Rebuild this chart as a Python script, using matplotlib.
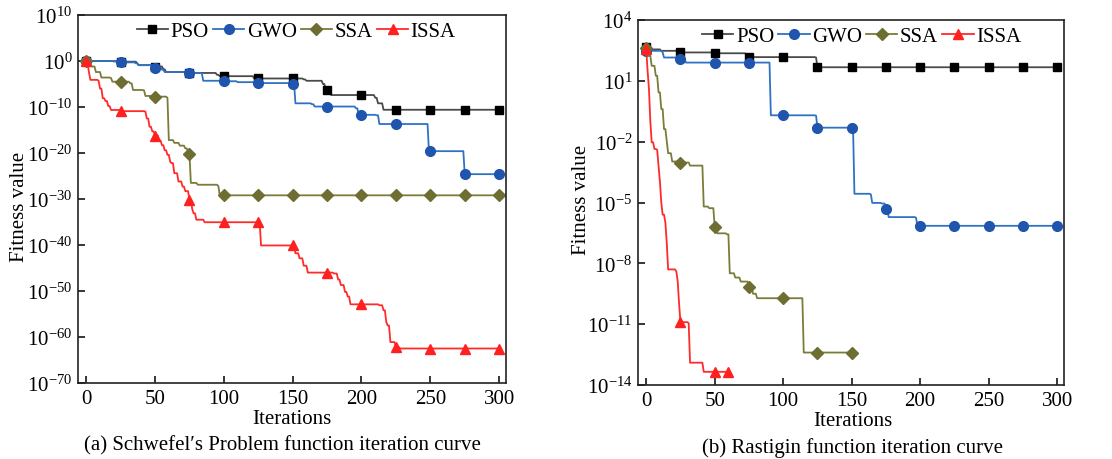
import numpy as np
import matplotlib
matplotlib.use("Agg")
import matplotlib.pyplot as plt
from matplotlib.ticker import LogFormatterSciNotation, NullLocator

plt.rcParams['font.family'] = ['Liberation Serif', 'DejaVu Serif']
plt.rcParams['mathtext.fontset'] = 'custom'
plt.rcParams['mathtext.rm'] = 'Liberation Serif'
plt.rcParams['mathtext.it'] = 'Liberation Serif:italic'
plt.rcParams['mathtext.bf'] = 'Liberation Serif:bold'

# ---------------- data (iteration where value changes, log10 fitness) ----------------
labels = ["PSO", "GWO", "SSA", "ISSA"]

# (a) Schwefel's Problem
a_pso_it = [0, 20, 25, 37, 38, 50, 56, 58, 75, 95, 97, 122, 158, 160, 172, 174, 177, 178, 210, 212, 216]
a_pso_lg = [0.0, -0.1, -0.15, -0.5, -0.9, -1.2, -1.8, -2.4, -2.6, -3.0, -3.3, -3.8, -4.0, -4.3, -5.0, -6.3, -6.8, -7.4, -8.0, -9.2, -10.6]
a_gwo_it = [0, 25, 36, 38, 50, 55, 57, 75, 84, 85, 100, 110, 125, 150, 152, 164, 166, 196, 198, 211, 213, 249, 275]
a_gwo_lg = [0.0, -0.3, -0.5, -0.9, -1.45, -1.9, -2.4, -2.6, -2.7, -4.3, -4.4, -4.6, -4.8, -4.9, -9.2, -9.4, -9.9, -10.3, -11.7, -11.8, -13.7, -19.6, -24.6]
a_ssa_it = [0, 2, 4, 7, 11, 18, 19, 32, 34, 42, 43, 50, 59, 60, 64, 68, 72, 74, 75, 76, 81, 96, 97]
a_ssa_lg = [0.0, -0.6, -1.2, -2.4, -3.6, -3.7, -4.5, -4.86, -6.3, -6.4, -7.6, -7.75, -8.0, -17.2, -17.8, -18.4, -19.0, -19.6, -20.3, -26.5, -26.9, -27.2, -29.2]
a_issa_it = [0, 1, 2, 3, 9, 10, 12, 14, 16, 18, 25, 43, 44, 46, 48, 50, 53, 55, 57, 59, 61, 62, 64, 67, 70, 72, 75, 77, 78, 80, 86,
             127, 152, 155, 158, 161, 180, 183, 185, 188, 190, 192, 213, 216, 218, 219, 221, 225, 228]
a_issa_lg = [0.0, -0.6, -2.5, -4.1, -4.3, -6.0, -8.1, -8.7, -9.8, -10.65, -10.9, -11.0, -12.5, -14.3, -15.3, -16.2, -17.3, -18.3, -19.4, -20.4, -21.9, -22.2, -24.4, -26.2, -27.3, -28.3, -30.2, -32.2, -33.1, -34.5, -35.05,
             -40.1, -41.8, -42.9, -44.5, -46.0, -46.2, -47.5, -48.7, -50.2, -51.2, -52.9, -53.1, -54.2, -56.7, -57.5, -61.1, -62.2, -62.5]
a_end = [300, 300, 300, 300]

# (b) Rastrigin
b_pso_it = [0, 3, 11, 25, 50, 73, 74, 124, 125]
b_pso_lg = [2.69, 2.55, 2.48, 2.40, 2.36, 2.30, 2.17, 2.15, 1.67]
b_gwo_it = [0, 12, 13, 25, 29, 91, 124, 125, 152, 164, 165, 172, 175, 177, 197, 198]
b_gwo_lg = [2.48, 2.40, 2.15, 2.07, 1.90, -0.70, -0.72, -1.31, -4.57, -4.6, -5.02, -5.05, -5.31, -5.72, -5.75, -6.15]
b_ssa_it = [0, 2, 4, 7, 9, 11, 13, 15, 16, 19, 25, 32, 42, 46, 50, 52, 59, 61, 65, 69, 75, 78, 81, 115]
b_ssa_lg = [2.6, 2.23, 1.74, 1.25, 0.43, -0.39, -1.38, -2.0, -2.57, -2.98, -3.03, -3.18, -5.2, -5.28, -6.19, -6.52, -6.57, -8.49, -8.7, -8.9, -9.19, -9.5, -9.72, -12.4]
b_issa_it = [0, 1, 2, 3, 4, 6, 8, 9, 10, 11, 12, 14, 15, 16, 22, 23, 24, 25, 31, 32, 42]
b_issa_lg = [2.55, 1.5, 0.59, -1.0, -2.03, -2.36, -2.4, -3.2, -3.97, -5.0, -5.6, -6.0, -7.0, -8.3, -8.4, -8.9, -10.0, -10.9, -10.95, -12.9, -13.35]
b_end = [300, 300, 150, 60]

x_ticks = [0, 50, 100, 150, 200, 250, 300]
captions = ["(a) Schwefel\u2032s Problem function iteration curve", "(b) Rastigin function iteration curve"]

# ---------------- styles ----------------
line_cols = ["#4a4a4a", "#2f72c4", "#7b7b3a", "#ff2b2b"]
mk_cols = ["#000000", "#1f55ad", "#6e6e33", "#ff2020"]
markers = ["s", "o", "D", "^"]
msizes = [6, 7, 6, 7]


def expand(its, lgs, end):
    x = np.arange(0, end + 1)
    idx = np.searchsorted(np.asarray(its), x, side="right") - 1
    return x, 10.0 ** np.asarray(lgs)[idx]


def mevery(n):
    m = list(range(0, n, 25))
    if m[-1] != n - 1:
        m.append(n - 1)
    return m


fig = plt.figure(figsize=(11.12, 4.6), dpi=100)
ax1 = fig.add_axes([78 / 1112, 1 - 384 / 460, 428 / 1112, 368 / 460])
ax2 = fig.add_axes([638 / 1112, 1 - 386 / 460, 426 / 1112, 365 / 460])

panels = [
    (ax1, [(a_pso_it, a_pso_lg), (a_gwo_it, a_gwo_lg), (a_ssa_it, a_ssa_lg), (a_issa_it, a_issa_lg)], a_end,
     (1e-70, 1e10), 10, 0.51),
    (ax2, [(b_pso_it, b_pso_lg), (b_gwo_it, b_gwo_lg), (b_ssa_it, b_ssa_lg), (b_issa_it, b_issa_lg)], b_end,
     (1e-14, 1e4), 3, 0.525),
]

for ax, series, ends, ylim, dec, lgx in panels:
    for i, ((its, lgs), end) in enumerate(zip(series, ends)):
        x, y = expand(its, lgs, end)
        ax.plot(x, y, color=line_cols[i], lw=1.3, marker=markers[i], ms=msizes[i],
                mfc=mk_cols[i], mec=mk_cols[i], markevery=mevery(len(x)), label=labels[i])
    ax.set_yscale("log")
    ax.set_ylim(*ylim)
    ax.set_xlim(-6, 305)
    lo, hi = np.log10(ylim[0]), np.log10(ylim[1])
    ax.set_yticks([10.0 ** k for k in np.arange(lo, hi + 0.5, dec)])
    ax.yaxis.set_major_formatter(LogFormatterSciNotation())
    ax.yaxis.set_minor_locator(NullLocator())
    ax.set_xticks(x_ticks)
    ax.tick_params(direction="in", length=5, width=1.1, labelsize=15, top=False, right=False, pad=4)
    for s in ax.spines.values():
        s.set_linewidth(1.2)
        s.set_color("#222222")
    ax.legend(loc="upper center", bbox_to_anchor=(lgx, 1.01), ncol=4, frameon=False, fontsize=15,
              handlelength=1.5, handletextpad=0.12, columnspacing=0.2, borderaxespad=0.1)

fig.text(20 / 1112, 1 - 207 / 460, "Fitness value", rotation=90, ha="center", va="center", fontsize=15)
fig.text(582 / 1112, 1 - 200 / 460, "Fitness value", rotation=90, ha="center", va="center", fontsize=15)
fig.text(292 / 1112, 1 - 420 / 460, "Iterations", ha="center", va="center", fontsize=15)
fig.text(853 / 1112, 1 - 422 / 460, "Iterations", ha="center", va="center", fontsize=15)
fig.text(282 / 1112, 1 - 446 / 460, captions[0], ha="center", va="center", fontsize=15)
fig.text(853 / 1112, 1 - 448 / 460, captions[1], ha="center", va="center", fontsize=15)

fig.savefig("out.png", dpi=100)
